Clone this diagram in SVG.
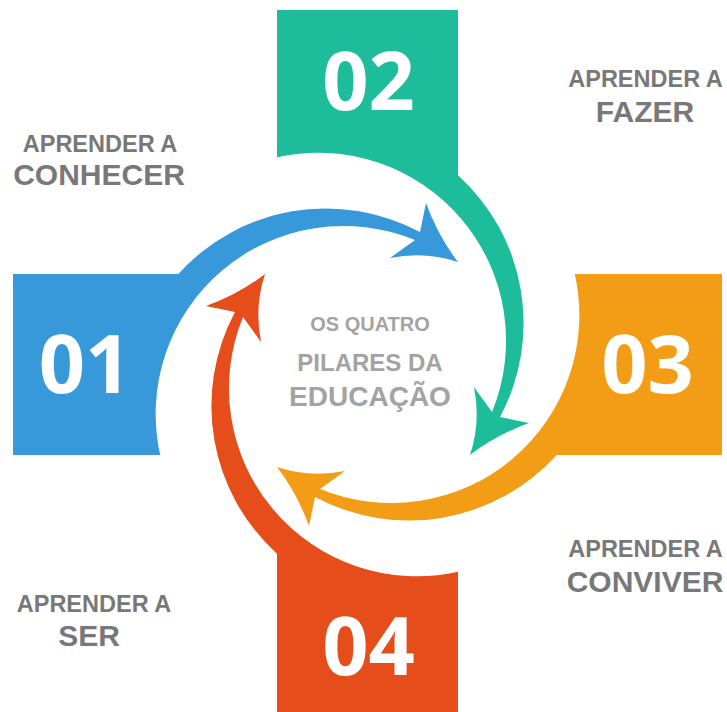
<svg xmlns="http://www.w3.org/2000/svg" xmlns:xlink="http://www.w3.org/1999/xlink" width="727" height="712" viewBox="0 0 727 712">
  <style>
    .num { font-family: "Open Sans", "Liberation Sans", sans-serif; font-weight: 700; font-size: 81px; fill: #ffffff; text-anchor: middle; }
    .lbl { font-family: "Liberation Sans", Arial, sans-serif; font-weight: 700; fill: #787878; text-anchor: middle; }
    .small { font-size: 23.5px; }
    .big { font-size: 30px; }
    .ctr { font-family: "Liberation Sans", Arial, sans-serif; font-weight: 700; fill: #a3a3a3; text-anchor: middle; }
  </style>
  <defs>
    <path id="piece" d="M 13 274 L 178.3 274 A 199.1 199.1 0 0 1 420 232 L 426 203 Q 438 236 458 262 Q 425 251 390 258 L 415 240 A 188 188 0 0 0 160.2 455 L 13 455 Z"/>
  </defs>
  <rect width="727" height="712" fill="#ffffff"/>
  <g id="connectors"></g>
  <g id="node-01">
    <use xlink:href="#piece" href="#piece" fill="#3799da"/>
    <text class="num" x="85" y="393">01</text>
  </g>
  <g id="node-02">
    <use xlink:href="#piece" href="#piece" fill="#1dbd9b" transform="rotate(90 367.5 364.5)"/>
    <text class="num" x="368.5" y="110">02</text>
  </g>
  <g id="node-03">
    <use xlink:href="#piece" href="#piece" fill="#f39d16" transform="rotate(180 367.5 364.5)"/>
    <text class="num" x="647.5" y="393">03</text>
  </g>
  <g id="node-04">
    <use xlink:href="#piece" href="#piece" fill="#e54d1a" transform="rotate(270 367.5 364.5)"/>
    <text class="num" x="368.5" y="675">04</text>
  </g>
  <g id="label-conhecer">
    <text class="lbl small" x="100" y="152">APRENDER A</text>
    <text class="lbl big" x="99" y="185">CONHECER</text>
  </g>
  <g id="label-fazer">
    <text class="lbl small" x="645.5" y="87">APRENDER A</text>
    <text class="lbl big" x="645" y="122">FAZER</text>
  </g>
  <g id="label-conviver">
    <text class="lbl small" x="645.5" y="557">APRENDER A</text>
    <text class="lbl big" x="645" y="592">CONVIVER</text>
  </g>
  <g id="label-ser">
    <text class="lbl small" x="94" y="612">APRENDER A</text>
    <text class="lbl big" x="89" y="646">SER</text>
  </g>
  <g id="center-title">
    <text class="ctr" x="370" y="331" font-size="20">OS QUATRO</text>
    <text class="ctr" x="370" y="371" font-size="24">PILARES DA</text>
    <text class="ctr" x="370" y="406" font-size="28">EDUCAÇÃO</text>
  </g>
</svg>
